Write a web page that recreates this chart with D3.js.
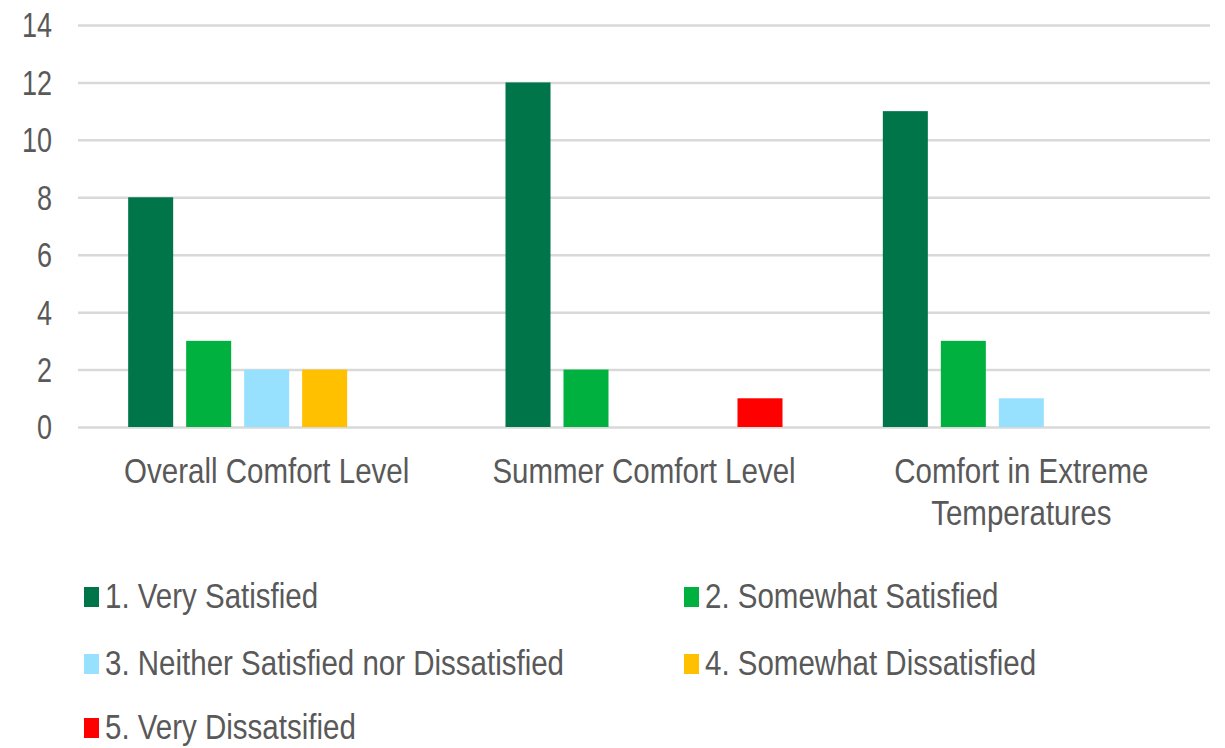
<!DOCTYPE html>
<html>
<head>
<meta charset="utf-8">
<script src="https://cdn.jsdelivr.net/npm/d3@7"></script>
<style>
  body { margin: 0; background: #fff; }
  svg { display: block; }
  text { font-family: "Liberation Sans", Arial, sans-serif; fill: #595959; }
</style>
</head>
<body>
<svg id="chart" width="1225" height="748"></svg>
<script>

var categories = ['Overall Comfort Level', 'Summer Comfort Level', 'Comfort in Extreme Temperatures'];
var series = ['1. Very Satisfied', '2. Somewhat Satisfied', '3. Neither Satisfied nor Dissatisfied',
              '4. Somewhat Dissatisfied', '5. Very Dissatsified'];
var colors = ['#00754a', '#00b140', '#97e1ff', '#ffc000', '#ff0000'];
var veryS = [8, 12, 11],
    somewhatS = [3, 2, 3],
    neither = [2, 0, 1],
    somewhatD = [2, 0, 0],
    veryD = [0, 1, 0];
var yTicks = [0, 2, 4, 6, 8, 10, 12, 14];

var values = [veryS, somewhatS, neither, somewhatD, veryD];
var stretch = 1.2;

var svg = d3.select('#chart'),
    plotLeft = 78, plotRight = 1210, plotTop = 25, plotBottom = 427;

var y = d3.scaleLinear().domain([0, 14]).range([plotBottom, plotTop]);
var x0 = d3.scaleBand().domain(categories).range([plotLeft, plotRight]);
var bw = x0.bandwidth();
var x1 = d3.scaleBand().domain(series)
    .range([bw / 2 - 138.5, bw / 2 + 138.5])
    .paddingInner(0.224);

// gridlines + y labels
var axis = svg.append('g')
    .attr('transform', 'translate(' + plotLeft + ',0)')
    .call(d3.axisLeft(y).tickValues(yTicks).tickSize(-(plotRight - plotLeft)).tickPadding(26));
axis.select('.domain').remove();
axis.selectAll('.tick line').attr('stroke', '#d9d9d9').attr('stroke-width', 2.5);
axis.selectAll('.tick text')
    .attr('font-size', 27)
    .attr('dy', '0.34em')
    .attr('transform', 'scale(1,1.3)')
    .style('fill', '#595959');

// bars
var groups = svg.selectAll('g.cat')
    .data(categories)
  .enter().append('g')
    .attr('class', 'cat')
    .attr('transform', function(d) { return 'translate(' + x0(d) + ',0)'; });

groups.selectAll('rect')
    .data(function(c, ci) {
      return series.map(function(s, si) { return { s: s, v: values[si][ci], c: colors[si] }; })
        .filter(function(d) { return d.v > 0; });
    })
  .enter().append('rect')
    .attr('x', function(d) { return x1(d.s); })
    .attr('y', function(d) { return y(d.v); })
    .attr('width', x1.bandwidth())
    .attr('height', function(d) { return y(0) - y(d.v); })
    .attr('fill', function(d) { return d.c; });

function label(x, yy, str, anchor) {
  svg.append('g')
      .attr('transform', 'translate(' + x + ',' + yy + ') scale(1,' + stretch + ')')
    .append('text')
      .attr('text-anchor', anchor)
      .attr('font-size', 29.5)
      .text(str);
}

// category labels
label(x0(categories[0]) + bw / 2, 483, categories[0], 'middle');
label(x0(categories[1]) + bw / 2, 483, categories[1], 'middle');
label(x0(categories[2]) + bw / 2, 483, 'Comfort in Extreme', 'middle');
label(x0(categories[2]) + bw / 2, 525, 'Temperatures', 'middle');

// legend
var legendPos = [[84, 608], [684, 608], [84, 675], [684, 675], [84, 739]];
series.forEach(function(s, i) {
  var p = legendPos[i];
  svg.append('rect')
      .attr('x', p[0])
      .attr('y', p[1] - 21)
      .attr('width', 15)
      .attr('height', 20)
      .attr('fill', colors[i]);
  label(p[0] + 21, p[1], s, 'start');
});

</script>
</body>
</html>
